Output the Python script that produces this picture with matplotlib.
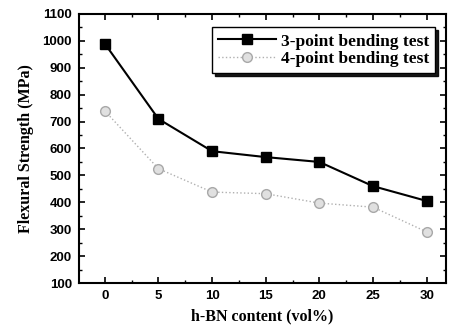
import numpy as np
import matplotlib
matplotlib.use('Agg')
import matplotlib.pyplot as plt
from matplotlib.ticker import MultipleLocator

# data
hbn = [0, 5, 10, 15, 20, 25, 30]
three_point = [990, 710, 590, 568, 550, 460, 405]
four_point = [740, 525, 438, 432, 397, 382, 290]

fig = plt.figure(figsize=(4.53, 3.27), dpi=100)
ax = fig.add_axes([79/453, 1-283/327, (446-79)/453, (283-14)/327])

ax.plot(hbn, three_point, '-s', color='black', lw=1.5, ms=7.5,
        label='3-point bending test')
ax.plot(hbn, four_point, ':o', color='#b0b0b0', lw=1.0, ms=7,
        mfc='#e0e0e0', mec='#a8a8a8', label='4-point bending test')

ax.set_xlim(-2.4, 31.8)
ax.set_ylim(100, 1100)
ax.set_xticks(hbn)
ax.set_yticks(np.arange(100, 1101, 100))
ax.xaxis.set_minor_locator(MultipleLocator(2.5))
ax.yaxis.set_minor_locator(MultipleLocator(50))
ax.tick_params(which='both', direction='in', top=True, right=True)
ax.tick_params(which='major', length=4, width=1.2, pad=5)
ax.tick_params(which='minor', length=2.5, width=1)
for lab in ax.get_xticklabels() + ax.get_yticklabels():
    lab.set_fontweight('bold')
    lab.set_fontfamily('Liberation Sans')
    lab.set_fontsize(9.5)
for s in ax.spines.values():
    s.set_linewidth(1.5)

ax.set_xlabel('h-BN content (vol%)', fontfamily='Liberation Serif',
              fontweight='bold', fontsize=11.5, labelpad=5)
ax.set_ylabel('Flexural Strength (MPa)', fontfamily='Liberation Serif',
              fontweight='bold', fontsize=11.5, labelpad=6)

leg = ax.legend(loc='upper right', bbox_to_anchor=(0.985, 0.97),
                prop={'family': 'Liberation Serif', 'weight': 'bold', 'size': 12.5},
                fancybox=False, edgecolor='black',
                shadow={'color': 'black', 'alpha': 0.9, 'ox': 1.8, 'oy': -1.8},
                handlelength=3.3, borderpad=0.35, labelspacing=0.1,
                handletextpad=0.3, borderaxespad=0.3)
leg.get_frame().set_linewidth(1.0)

fig.savefig('out.png', dpi=100)
